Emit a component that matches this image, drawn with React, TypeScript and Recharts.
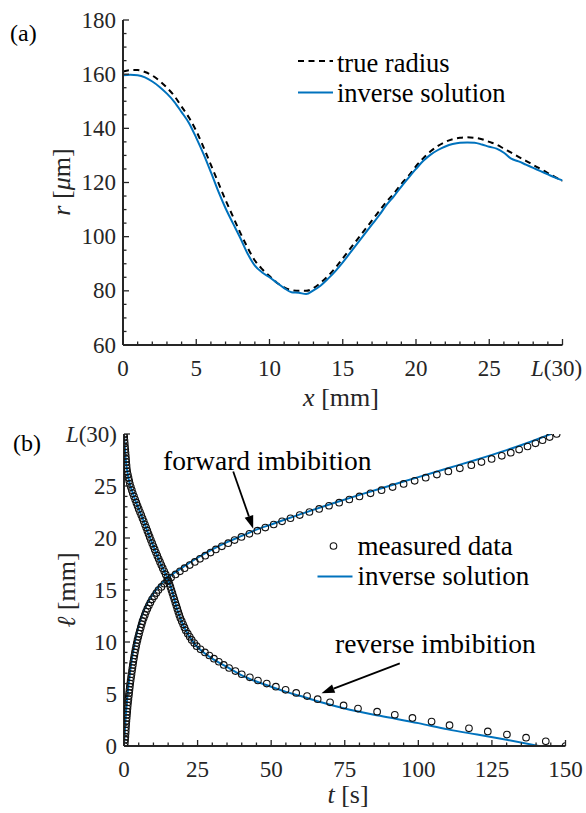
import React from "react";
import { ComposedChart, Line, Scatter, XAxis, YAxis, ReferenceLine } from "recharts";

const FONT = '"Liberation Serif"';
const INK = "#262626";
const BLUE = "#0072BD";

// (a) capillary radius along the axis
const axialPos = [
  0, 0.5, 1, 1.5, 2, 2.5, 3, 3.5, 4, 4.5, 5, 5.5, 6, 6.5, 7, 7.5, 8, 8.5, 9, 9.5,
  10, 10.5, 11, 11.5, 12, 12.5, 13, 13.5, 14, 14.5, 15, 15.5, 16, 16.5, 17, 17.5, 18, 18.5, 19, 19.5,
  20, 20.5, 21, 21.5, 22, 22.5, 23, 23.5, 24, 24.5, 25, 25.5, 26, 26.5, 27, 27.5, 28, 28.5, 29, 29.5, 30,
];
const trueRadius = [
  161.0, 161.5, 161.5, 160.8, 159.5, 157.5, 155.0, 152.0, 148.0, 144.0, 139.0, 133.0, 126.5, 120.0, 113.5, 107.5, 101.5, 96.0, 91.2, 88.0,
  85.5, 83.0, 81.3, 80.3, 80.0, 80.0, 81.0, 83.0, 85.5, 88.5, 92.0, 95.5, 99.0, 102.5, 106.0, 109.5, 113.0, 116.0, 119.5, 122.5,
  126.0, 129.0, 131.5, 133.5, 135.0, 136.0, 136.5, 136.7, 136.5, 136.0, 135.0, 134.0, 132.5, 131.0, 129.5, 128.0, 126.5, 125.0, 123.5, 122.0, 120.5,
];
const inverseRadius = [
  159.6, 159.8, 159.6, 158.8, 157.3, 155.3, 152.8, 149.8, 146.0, 142.0, 136.5, 130.5, 123.8, 116.8, 110.5, 105.0, 99.6, 93.8, 89.3, 86.8,
  85.0, 83.0, 81.0, 79.5, 79.3, 78.8, 80.2, 82.0, 84.5, 87.3, 90.5, 94.0, 97.5, 101.0, 104.5, 108.0, 111.8, 115.0, 118.5, 121.8,
  125.0, 128.0, 130.3, 132.0, 133.3, 134.2, 134.7, 134.8, 134.7, 134.0, 133.2, 132.5, 131.0, 128.8, 127.8, 126.6, 125.4, 124.2, 123.0, 121.8, 120.8,
];

// (b) front position over time: [t, l]
const forwardFit = [
  [0, 0], [0.5, 2.5], [1, 4.3], [2, 7.0], [3, 8.9], [4, 10.4], [5, 11.6], [6, 12.5], [8, 13.8], [10, 14.7],
  [12, 15.4], [15, 16.2], [20, 17.2], [25, 18.1], [30, 18.9], [35, 19.6], [40, 20.2], [45, 20.8], [50, 21.3],
  [60, 22.3], [70, 23.25], [80, 24.15], [90, 25.0], [100, 25.85], [110, 26.7], [120, 27.55], [130, 28.45], [140, 29.45], [145, 30.0],
];
const reverseFit = [
  [0, 30], [0.25, 28.9], [0.5, 27.8], [1, 26.6], [1.5, 25.8], [2, 25.2], [3, 24.3], [4, 23.5], [5, 22.8], [6, 22.1],
  [7, 21.4], [8, 20.6], [9, 19.9], [10, 19.2], [11, 18.5], [12, 17.8], [13, 17.2], [14, 16.6], [15, 16.0], [16, 15.2],
  [17, 14.2], [18, 13.2], [19, 12.4], [20, 11.7], [21, 11.1], [22, 10.6], [23, 10.2], [24, 9.8], [25, 9.5], [27.5, 8.9],
  [30, 8.4], [35, 7.6], [40, 6.8], [45, 6.2], [50, 5.7], [55, 5.2], [60, 4.8], [67, 4.2], [75, 3.6], [87, 2.9],
  [100, 2.2], [110, 1.6], [120, 1.1], [130, 0.6], [141, 0],
];
const forwardMeasured = [
  [0.2, 0], [0.29, 0.3], [0.38, 0.6], [0.47, 0.9], [0.54, 1.2], [0.6, 1.5], [0.66, 1.8], [0.73, 2.1], [0.82, 2.4], [0.91, 2.7],
  [1.0, 3.0], [1.09, 3.3], [1.18, 3.6], [1.27, 3.9], [1.38, 4.2], [1.5, 4.5], [1.62, 4.8], [1.74, 5.1], [1.86, 5.4], [1.98, 5.7],
  [2.1, 6.0], [2.25, 6.3], [2.4, 6.6], [2.55, 6.9], [2.7, 7.2], [2.85, 7.5], [3.0, 7.8], [3.16, 8.1], [3.34, 8.4], [3.52, 8.7],
  [3.7, 9.0], [3.91, 9.3], [4.12, 9.6], [4.33, 9.9], [4.58, 10.2], [4.85, 10.5], [5.12, 10.8], [5.4, 11.1], [5.7, 11.4], [6.0, 11.7],
  [6.3, 12.0], [6.69, 12.3], [7.08, 12.6], [7.47, 12.9], [7.94, 13.2], [8.45, 13.5], [8.96, 13.8], [9.54, 14.1], [10.26, 14.4], [10.98, 14.7],
  [11.7, 15.0], [12.69, 15.3], [13.68, 15.6], [14.67, 15.9], [16.0, 16.2], [17.5, 16.5], [19.0, 16.8], [20.58, 17.1], [22.32, 17.4], [24.06, 17.7],
  [25.8, 18.0], [27.6, 18.3], [29.4, 18.6], [31.2, 18.9], [33.24, 19.2], [35.4, 19.5], [37.56, 19.8], [39.9, 20.1], [42.6, 20.4], [45.3, 20.7],
  [48.0, 21.0], [50.85, 21.3], [53.7, 21.6], [56.55, 21.9], [59.7, 22.2], [63.0, 22.5], [66.3, 22.8], [69.65, 23.1], [73.1, 23.4], [76.55, 23.7],
  [80.0, 24.0], [83.75, 24.3], [87.5, 24.6], [91.25, 24.9], [95.0, 25.2], [98.75, 25.5], [102.5, 25.8], [106.3, 26.1], [110.2, 26.4], [114.1, 26.7],
  [118.0, 27.0], [121.45, 27.3], [124.9, 27.6], [128.35, 27.9], [131.4, 28.2], [134.25, 28.5], [137.1, 28.8], [139.8, 29.1], [142.2, 29.4], [144.6, 29.7],
  [147.0, 30.0],
];
const reverseMeasured = [
  [0, 30], [0.09, 29.7], [0.17, 29.4], [0.26, 29.1], [0.34, 28.8], [0.43, 28.5], [0.51, 28.2], [0.6, 27.9], [0.69, 27.6], [0.77, 27.3],
  [0.86, 27.0], [0.94, 26.7], [1.08, 26.4], [1.31, 26.1], [1.54, 25.8], [1.77, 25.5], [2.0, 25.2], [2.33, 24.9], [2.67, 24.6], [3.0, 24.3],
  [3.4, 24.0], [3.8, 23.7], [4.2, 23.4], [4.6, 23.1], [5.0, 22.8], [5.43, 22.5], [5.86, 22.2], [6.29, 21.9], [6.71, 21.6], [7.13, 21.3],
  [7.53, 21.0], [7.93, 20.7], [8.33, 20.4], [8.73, 20.1], [9.14, 19.8], [9.57, 19.5], [10.0, 19.2], [10.43, 18.9], [10.86, 18.6], [11.31, 18.3],
  [11.77, 18.0], [12.23, 17.7], [12.69, 17.4], [13.17, 17.1], [13.67, 16.8], [14.17, 16.5], [14.67, 16.2], [15.11, 15.9], [15.44, 15.6], [15.78, 15.3],
  [16.11, 15.0], [16.44, 14.7], [16.78, 14.4], [17.11, 14.1], [17.44, 13.8], [17.78, 13.5], [18.11, 13.2], [18.44, 12.9], [18.78, 12.6], [19.15, 12.3],
  [19.62, 12.0], [20.08, 11.7], [20.54, 11.4], [21.0, 11.1], [21.67, 10.8], [22.33, 10.5], [23.0, 10.2], [23.86, 9.9], [24.71, 9.6], [26.0, 9.3],
  [27.5, 9.0], [29.0, 8.7], [30.56, 8.4], [32.22, 8.1], [33.89, 7.8], [35.71, 7.5], [37.86, 7.2], [40.0, 6.9], [42.75, 6.6], [45.5, 6.3],
  [48.5, 6.0], [51.6, 5.7], [54.9, 5.4], [58.5, 5.1], [62.2, 4.8], [65.8, 4.5], [70.0, 4.2], [74.6, 3.9], [79.5, 3.6], [86.0, 3.3],
  [92.0, 3.0], [98.0, 2.7], [104.5, 2.35], [110.6, 2.0], [117.2, 1.7], [123.6, 1.4], [130.1, 1.1], [136.6, 0.8], [143.3, 0.45], [150, 0],
];

const xMajorA = [0, 5, 10, 15, 20, 25, 30];
const yMajorA = [60, 80, 100, 120, 140, 160, 180];
const xMajorB = [0, 25, 50, 75, 100, 125, 150];
const yMajorB = [0, 5, 10, 15, 20, 25, 30];

// arrow annotations, data coords
const forwardArrow = [{ x: 37.1, y: 26.4 }, { x: 43.9, y: 20.9 }];
const reverseArrow = [{ x: 93.7, y: 7.95 }, { x: 67.1, y: 5.07 }];

const profileRows = axialPos.map((x, i) => ({ x, trueR: trueRadius[i], invR: inverseRadius[i] }));
const toRows = (pts: number[][]) => pts.map(([t, l]) => ({ t, l }));

function steps(from: number, to: number, step: number) {
  const out: number[] = [];
  for (let v = from; v <= to + 1e-9; v += step) out.push(v);
  return out;
}

function tickText(v: number) {
  if (v === 30) {
    return (
      <>
        <tspan fontStyle="italic">L</tspan>(30)
      </>
    );
  }
  return String(v);
}

type Side = "bottom" | "top" | "left" | "right";

const serif = { fontFamily: FONT };

function tickMark(side: Side, majors: number[], withLabel: boolean) {
  return (props: any) => {
    const { x, y, payload } = props;
    const v = payload.value;
    const major = majors.includes(v);
    const len = major ? 6 : 3.5;
    const dx = side === "left" ? len : side === "right" ? -len : 0;
    const dy = side === "bottom" ? -len : side === "top" ? len : 0;
    let label = null;
    if (withLabel && major) {
      label =
        side === "bottom" ? (
          <text x={v === 30 ? x - 6 : x} y={y + 31} textAnchor="middle" style={serif} fontSize={23} fill={INK}>
            {tickText(v)}
          </text>
        ) : (
          <text x={x - 7} y={y + 7.5} textAnchor="end" style={serif} fontSize={23} fill={INK}>
            {tickText(v)}
          </text>
        );
    }
    return (
      <g>
        <line x1={x} y1={y} x2={x + dx} y2={y + dy} stroke={INK} strokeWidth={1.3} />
        {label}
      </g>
    );
  };
}

const axisLine = { stroke: INK, strokeWidth: 2 };

function ring(p: any) {
  return <circle cx={p.cx} cy={p.cy} r={3.3} fill="none" stroke="#111" strokeWidth={1.1} />;
}

function arrow(p: any) {
  const { x1, y1, x2, y2 } = p;
  const ang = Math.atan2(y2 - y1, x2 - x1);
  const L = 13;
  const W = 4.5;
  const bx = x2 - L * Math.cos(ang);
  const by = y2 - L * Math.sin(ang);
  const px = -Math.sin(ang) * W;
  const py = Math.cos(ang) * W;
  return (
    <g>
      <line x1={x1} y1={y1} x2={bx} y2={by} stroke="#000" strokeWidth={1.8} />
      <polygon points={`${x2},${y2} ${bx + px},${by + py} ${bx - px},${by - py}`} fill="#000" />
    </g>
  );
}

function RadiusPanel() {
  const xTicks = steps(0, 30, 1);
  const yTicks = steps(60, 180, 5);
  return (
    <ComposedChart width={586} height={420} data={profileRows} margin={{ top: 20, right: 23.5, bottom: 0, left: 0 }}>
      <XAxis xAxisId="b" dataKey="x" type="number" domain={[0, 30]} allowDataOverflow ticks={xTicks} interval={0}
        height={75} tickSize={0} tickMargin={0} tickLine={false} axisLine={axisLine} tick={tickMark("bottom", xMajorA, true)} />
      <XAxis xAxisId="t" orientation="top" dataKey="x" type="number" domain={[0, 30]} allowDataOverflow ticks={xTicks} interval={0}
        height={0} tickSize={0} tickMargin={0} tickLine={false} axisLine={axisLine} tick={tickMark("top", xMajorA, false)} />
      <YAxis yAxisId="l" type="number" domain={[60, 180]} allowDataOverflow ticks={yTicks} interval={0}
        width={123} tickSize={0} tickMargin={0} tickLine={false} axisLine={axisLine} tick={tickMark("left", yMajorA, true)} />
      <YAxis yAxisId="r" orientation="right" type="number" domain={[60, 180]} allowDataOverflow ticks={yTicks} interval={0}
        width={0} tickSize={0} tickMargin={0} tickLine={false} axisLine={axisLine} tick={tickMark("right", yMajorA, false)} />
      <Line xAxisId="b" yAxisId="l" type="monotone" dataKey="trueR" stroke="#000" strokeWidth={2}
        strokeDasharray="6 4.5" dot={false} activeDot={false} isAnimationActive={false} />
      <Line xAxisId="b" yAxisId="l" type="monotone" dataKey="invR" stroke={BLUE} strokeWidth={2}
        dot={false} activeDot={false} isAnimationActive={false} />
    </ComposedChart>
  );
}

function FrontPanel() {
  const xTicks = steps(0, 150, 5);
  const yTicks = steps(0, 30, 1);
  return (
    <ComposedChart width={586} height={413} data={toRows(forwardFit)} margin={{ top: 34, right: 20.5, bottom: 0, left: 0 }}>
      <XAxis xAxisId="b" dataKey="t" type="number" domain={[0, 150]} allowDataOverflow ticks={xTicks} interval={0}
        height={67} tickSize={0} tickMargin={0} tickLine={false} axisLine={axisLine} tick={tickMark("bottom", xMajorB, true)} />
      <XAxis xAxisId="t" orientation="top" dataKey="t" type="number" domain={[0, 150]} allowDataOverflow ticks={xTicks} interval={0}
        height={0} tickSize={0} tickMargin={0} tickLine={false} axisLine={axisLine} tick={tickMark("top", xMajorB, false)} />
      <YAxis yAxisId="l" type="number" domain={[0, 30]} allowDataOverflow ticks={yTicks} interval={0}
        width={124} tickSize={0} tickMargin={0} tickLine={false} axisLine={axisLine} tick={tickMark("left", yMajorB, true)} />
      <YAxis yAxisId="r" orientation="right" type="number" domain={[0, 30]} allowDataOverflow ticks={yTicks} interval={0}
        width={0} tickSize={0} tickMargin={0} tickLine={false} axisLine={axisLine} tick={tickMark("right", yMajorB, false)} />
      <Scatter xAxisId="b" yAxisId="l" data={toRows(forwardMeasured)} dataKey="l" shape={ring} isAnimationActive={false} />
      <Scatter xAxisId="b" yAxisId="l" data={toRows(reverseMeasured)} dataKey="l" shape={ring} isAnimationActive={false} />
      <Line xAxisId="b" yAxisId="l" data={toRows(forwardFit)} type="monotone" dataKey="l" stroke={BLUE} strokeWidth={2}
        dot={false} activeDot={false} isAnimationActive={false} />
      <Line xAxisId="b" yAxisId="l" data={toRows(reverseFit)} type="monotone" dataKey="l" stroke={BLUE} strokeWidth={2}
        dot={false} activeDot={false} isAnimationActive={false} />
      <ReferenceLine xAxisId="b" yAxisId="l" segment={forwardArrow} shape={arrow} ifOverflow="visible" />
      <ReferenceLine xAxisId="b" yAxisId="l" segment={reverseArrow} shape={arrow} ifOverflow="visible" />
    </ComposedChart>
  );
}

function Overlay() {
  const t = { style: serif, fill: "#000" };
  return (
    <svg width={586} height={813} style={{ position: "absolute", left: 0, top: 0, pointerEvents: "none" }}>
      <text x={10} y={41} fontSize={24} {...t}>(a)</text>
      <text x={13} y={451} fontSize={24} {...t}>(b)</text>

      <text transform="translate(70,182) rotate(-90)" textAnchor="middle" fontSize={26} style={serif} fill={INK}>
        <tspan fontStyle="italic">r</tspan> [<tspan fontStyle="italic">μ</tspan>m]
      </text>
      <text x={341} y={406} textAnchor="middle" fontSize={26} style={serif} fill={INK}>
        <tspan fontStyle="italic">x</tspan> [mm]
      </text>
      <text transform="translate(75,590) rotate(-90)" textAnchor="middle" fontSize={26} style={serif} fill={INK}>
        <tspan fontStyle="italic">ℓ</tspan> [mm]
      </text>
      <text x={348} y={803} textAnchor="middle" fontSize={26} style={serif} fill={INK}>
        <tspan fontStyle="italic">t</tspan> [s]
      </text>

      <line x1={298} y1={61} x2={333} y2={61} stroke="#000" strokeWidth={2} strokeDasharray="6 4.5" />
      <text x={337} y={71.5} fontSize={26.5} {...t}>true radius</text>
      <line x1={298} y1={92.5} x2={333} y2={92.5} stroke={BLUE} strokeWidth={2} />
      <text x={337} y={101.5} fontSize={26.5} {...t}>inverse solution</text>

      <circle cx={333.5} cy={546} r={3.3} fill="none" stroke="#111" strokeWidth={1.1} />
      <text x={357.5} y={555} fontSize={27} {...t}>measured data</text>
      <line x1={317.5} y1={576.5} x2={352.5} y2={576.5} stroke={BLUE} strokeWidth={2} />
      <text x={357.5} y={585} fontSize={27} {...t}>inverse solution</text>

      <text x={163} y={470} fontSize={27.5} {...t}>forward imbibition</text>
      <text x={335} y={653} fontSize={27.5} {...t}>reverse imbibition</text>
    </svg>
  );
}

export default function App() {
  return (
    <div style={{ position: "absolute", left: 0, top: 0, width: 586, height: 813, background: "#fff" }}>
      <div style={{ position: "absolute", left: 0, top: 0 }}>
        <RadiusPanel />
      </div>
      <div style={{ position: "absolute", left: 0, top: 400 }}>
        <FrontPanel />
      </div>
      <Overlay />
    </div>
  );
}
